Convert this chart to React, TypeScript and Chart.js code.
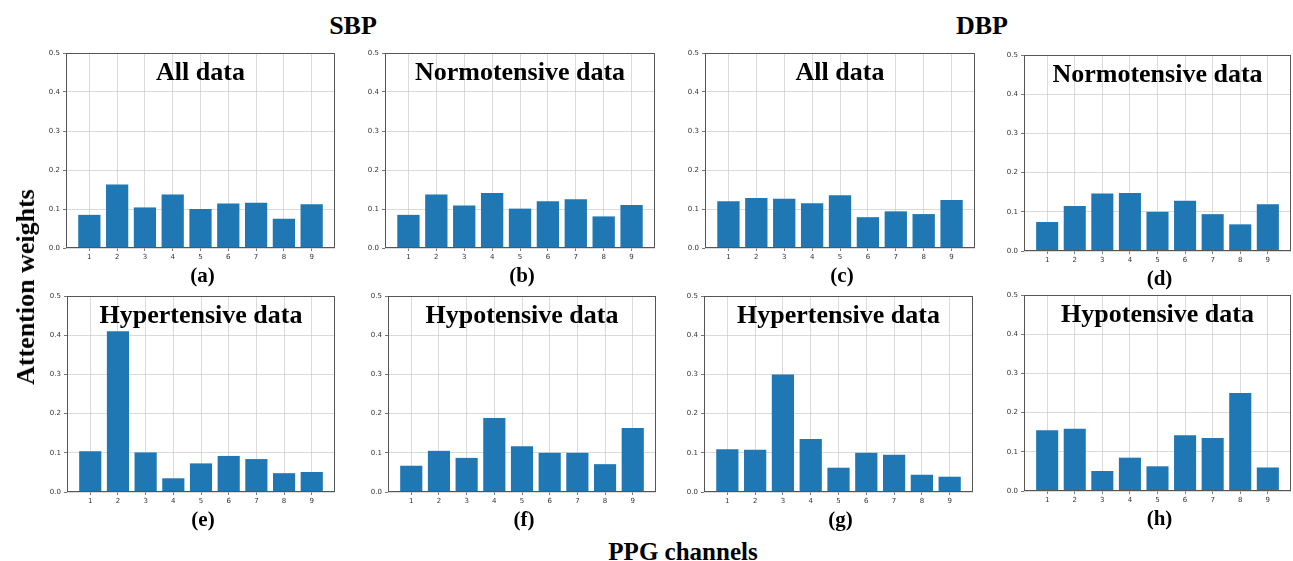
import React, { useEffect, useRef } from "react";
import { Chart, registerables } from "chart.js";

Chart.register(...registerables);

// ---------- data ----------
const channels = [1, 2, 3, 4, 5, 6, 7, 8, 9];
const yTickValues = [0, 0.1, 0.2, 0.3, 0.4, 0.5];

const sbpAll = [0.085, 0.163, 0.104, 0.137, 0.1, 0.114, 0.116, 0.075, 0.112];
const sbpNormotensive = [0.085, 0.137, 0.109, 0.141, 0.101, 0.12, 0.125, 0.081, 0.11];
const dbpAll = [0.12, 0.128, 0.126, 0.115, 0.135, 0.079, 0.094, 0.087, 0.123];
const dbpNormotensive = [0.074, 0.115, 0.147, 0.148, 0.1, 0.128, 0.094, 0.068, 0.119];
const sbpHypertensive = [0.104, 0.41, 0.101, 0.035, 0.073, 0.092, 0.084, 0.048, 0.051];
const sbpHypotensive = [0.067, 0.105, 0.087, 0.189, 0.117, 0.1, 0.1, 0.071, 0.163];
const dbpHypertensive = [0.109, 0.108, 0.3, 0.135, 0.062, 0.1, 0.095, 0.044, 0.039];
const dbpHypotensive = [0.155, 0.159, 0.051, 0.085, 0.063, 0.142, 0.135, 0.25, 0.06];

const panelTitles = [
  "All data",
  "Normotensive data",
  "All data",
  "Normotensive data",
  "Hypertensive data",
  "Hypotensive data",
  "Hypertensive data",
  "Hypotensive data",
];
const panelLetters = ["(a)", "(b)", "(c)", "(d)", "(e)", "(f)", "(g)", "(h)"];
const panelValues = [
  sbpAll,
  sbpNormotensive,
  dbpAll,
  dbpNormotensive,
  sbpHypertensive,
  sbpHypotensive,
  dbpHypertensive,
  dbpHypotensive,
];

const groupLabels = ["SBP", "DBP"];
const yAxisTitle = "Attention weights";
const xAxisTitle = "PPG channels";

// ---------- layout (plot-area rectangles in page pixels) ----------
const plotRects = [
  { l: 66, r: 335, t: 53, b: 248 },
  { l: 385, r: 655, t: 53, b: 248 },
  { l: 705, r: 975, t: 53, b: 248 },
  { l: 1024, r: 1291, t: 55, b: 251 },
  { l: 67, r: 335, t: 296, b: 492 },
  { l: 388, r: 656, t: 296, b: 492 },
  { l: 704, r: 973, t: 296, b: 492 },
  { l: 1024, r: 1291, t: 295, b: 491 },
];
const PAD_L = 40;
const PAD_T = 10;
const PAD_R = 2;
const PAD_B = 16;

const SERIF = '"Liberation Serif", "Times New Roman", serif';

const decorPlugin = {
  id: "panelDecor",
  afterDraw(chart: any, _args: any, opts: any) {
    const { ctx, chartArea: a } = chart;
    ctx.save();
    ctx.strokeStyle = "#555";
    ctx.lineWidth = 1;
    ctx.strokeRect(a.left + 0.5, a.top + 0.5, a.right - a.left - 1, a.bottom - a.top - 1);
    ctx.font = `bold 26px ${SERIF}`;
    ctx.fillStyle = "#000";
    ctx.textAlign = "center";
    ctx.textBaseline = "alphabetic";
    ctx.fillText(opts.text, (a.left + a.right) / 2, a.top + 27);
    ctx.restore();
  },
};

function Panel({ idx }: { idx: number }) {
  const ref = useRef<HTMLCanvasElement | null>(null);
  const rect = plotRects[idx];
  const w = rect.r - rect.l + PAD_L + PAD_R;
  const h = rect.b - rect.t + PAD_T + PAD_B;

  useEffect(() => {
    if (!ref.current) return;
    const values = panelValues[idx];
    const chart = new Chart(ref.current, {
      type: "bar",
      data: {
        datasets: [
          {
            data: channels.map((c, i) => ({ x: c, y: values[i] })),
            backgroundColor: "#1f77b4",
            borderWidth: 0,
            barPercentage: 0.8,
            categoryPercentage: 1,
          },
        ],
      },
      options: {
        animation: false,
        responsive: false,
        maintainAspectRatio: false,
        layout: { padding: { top: PAD_T, right: PAD_R, left: 0, bottom: 0 } },
        plugins: {
          legend: { display: false },
          tooltip: { enabled: false },
          title: { display: false },
          panelDecor: { text: panelTitles[idx] },
        } as any,
        scales: {
          x: {
            type: "linear",
            min: 0.16,
            max: 9.84,
            offset: false,
            z: 1,
            afterBuildTicks: (s: any) => {
              s.ticks = channels.map((v) => ({ value: v }));
            },
            afterFit: (s: any) => {
              s.height = PAD_B;
            },
            grid: {
              offset: false,
              color: "rgba(195,195,195,0.75)",
              lineWidth: 0.8,
              tickLength: 3,
              tickColor: "#555",
            },
            border: { display: false },
            ticks: {
              font: { family: "DejaVu Sans", size: 7 },
              color: "#333",
              padding: 2,
              maxRotation: 0,
              autoSkip: false,
              callback: (v: any) => String(v),
            },
          },
          y: {
            type: "linear",
            min: 0,
            max: 0.5,
            z: 1,
            afterBuildTicks: (s: any) => {
              s.ticks = yTickValues.map((v) => ({ value: v }));
            },
            afterFit: (s: any) => {
              s.width = PAD_L;
            },
            grid: {
              color: "rgba(195,195,195,0.75)",
              lineWidth: 0.8,
              tickLength: 3,
              tickColor: "#555",
            },
            border: { display: false },
            ticks: {
              font: { family: "DejaVu Sans", size: 7 },
              color: "#333",
              padding: 3,
              callback: (v: any) => Number(v).toFixed(1),
            },
          },
        },
      } as any,
      plugins: [decorPlugin as any],
    });
    return () => chart.destroy();
  }, [idx]);

  return (
    <canvas
      ref={ref}
      width={w}
      height={h}
      style={{
        position: "absolute",
        left: rect.l - PAD_L,
        top: rect.t - PAD_T,
        width: w,
        height: h,
      }}
    />
  );
}

const textStyle = (x: number, y: number, size: number): React.CSSProperties => ({
  position: "absolute",
  left: x,
  top: y,
  transform: "translate(-50%, -50%)",
  fontFamily: SERIF,
  fontWeight: "bold",
  fontSize: size,
  lineHeight: 1,
  whiteSpace: "nowrap",
  color: "#000",
});

export default function App() {
  return (
    <div
      style={{
        position: "absolute",
        left: 0,
        top: 0,
        width: 1293,
        height: 561,
        overflow: "hidden",
        background: "#fff",
      }}
    >
      {plotRects.map((_, i) => (
        <Panel key={i} idx={i} />
      ))}
      {plotRects.map((r, i) => (
        <div key={"l" + i} style={textStyle((r.l + r.r) / 2 + 2, r.b + 27, 21)}>
          {panelLetters[i]}
        </div>
      ))}
      <div style={textStyle(353, 26, 26)}>{groupLabels[0]}</div>
      <div style={textStyle(982, 26, 26)}>{groupLabels[1]}</div>
      <div style={textStyle(683, 551, 25)}>{xAxisTitle}</div>
      <div
        style={{
          ...textStyle(26, 287, 26),
          transform: "translate(-50%, -50%) rotate(-90deg)",
        }}
      >
        {yAxisTitle}
      </div>
    </div>
  );
}
